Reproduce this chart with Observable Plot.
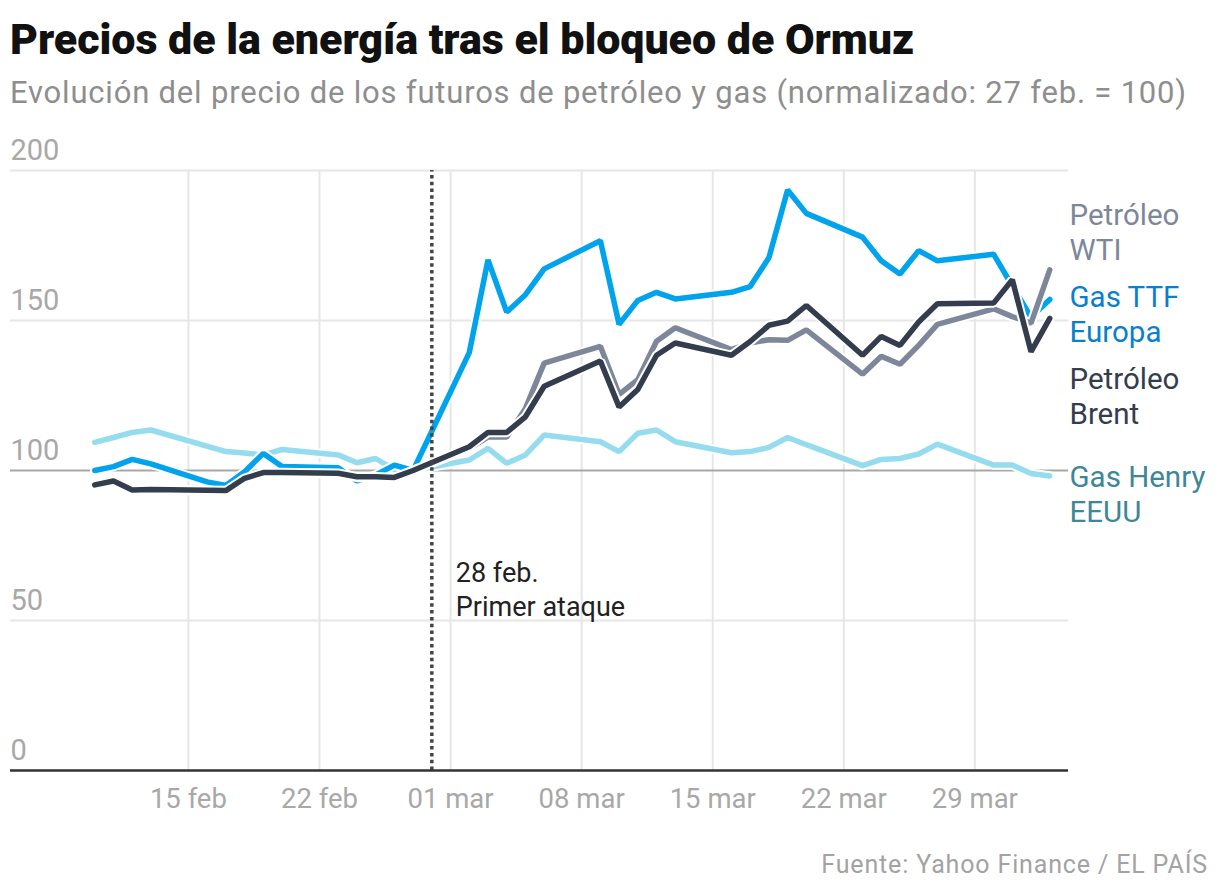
<!DOCTYPE html>
<html>
<head>
<meta charset="utf-8">
<script src="https://cdn.jsdelivr.net/npm/d3@7"></script>
<script src="https://cdn.jsdelivr.net/npm/@observablehq/plot@0.6"></script>
<style>
  html, body { margin: 0; padding: 0; background: #fff; width: 1220px; height: 896px; overflow: hidden; }
  #title { position: absolute; left: 10px; top: 14px; font-family: "Roboto"; font-weight: 900; font-size: 43px; line-height: 50px; color: #111; letter-spacing: -0.05px; white-space: nowrap; }
  #subtitle { position: absolute; left: 10px; top: 73px; font-family: "Roboto"; font-weight: 400; font-size: 31px; line-height: 40px; color: #8e8e8e; letter-spacing: 0.8px; white-space: nowrap; }
  #chart { position: absolute; left: 0; top: 130px; }
  #source { position: absolute; right: 12px; top: 850px; font-family: "Roboto"; font-size: 25px; line-height: 30px; color: #a3a3a3; letter-spacing: 0.85px; white-space: nowrap; }
</style>
</head>
<body>
<div id="title">Precios de la energía tras el bloqueo de Ormuz</div>
<div id="subtitle">Evolución del precio de los futuros de petróleo y gas (normalizado: 27 feb. = 100)</div>
<div id="chart"></div>
<div id="source">Fuente: Yahoo Finance / EL PAÍS</div>
<script>
// ---- Data ----
const dates = [
  "2026-02-10","2026-02-11","2026-02-12","2026-02-13","2026-02-16","2026-02-17","2026-02-18","2026-02-19","2026-02-20",
  "2026-02-23","2026-02-24","2026-02-25","2026-02-26","2026-02-27",
  "2026-03-02","2026-03-03","2026-03-04","2026-03-05","2026-03-06",
  "2026-03-09","2026-03-10","2026-03-11","2026-03-12","2026-03-13",
  "2026-03-16","2026-03-17","2026-03-18","2026-03-19","2026-03-20",
  "2026-03-23","2026-03-24","2026-03-25","2026-03-26","2026-03-27",
  "2026-03-30","2026-03-31","2026-04-01","2026-04-02"
];
const henry = [109.4, 111.0, 112.7, 113.5, null, 106.3, 105.8, 105.2, 107.0,
  105.2, 102.6, 104.0, 100.3, 100,
  103.5, 107.4, 102.4, 105.2, 111.8,
  109.6, 106.3, 112.4, 113.5, 109.6,
  105.9, 106.3, 107.7, 111.0, 108.6,
  101.6, 103.7, 104.0, 105.5, 108.8,
  101.8, 101.8, 99.0, 98.2];
const ttf = [100.0, 101.3, 103.7, 102.2, 96.2, 95.0, 99.6, 105.7, 101.3,
  100.9, 96.5, 98.5, 101.8, 100,
  139.3, 170.2, 152.8, 158.6, 167.2,
  176.6, 148.7, 156.7, 159.4, 157.2,
  159.4, 161.3, 170.9, 193.5, 185.7,
  177.8, 169.9, 165.5, 173.3, 169.9,
  172.1, 161.5, 151.1, 157.0];
const wti = [95.0, 96.3, 93.3, 93.5, null, 93.1, 97.2, 99.1, 99.1,
  98.9, 97.7, 97.7, 97.5, 100,
  107.3, 111.2, 111.2, 120.7, 135.8,
  141.4, 125.4, 130.3, 143.1, 147.6,
  140.3, 142.5, 143.6, 143.4, 146.9,
  132.1, 138.1, 135.4, 141.7, 148.7,
  153.9, 151.3, 149.1, 166.9];
const brent = [95.2, 96.5, 93.5, 93.7, 93.4, 93.3, 97.4, 99.3, 99.3,
  99.1, 97.9, 97.9, 97.7, 100,
  107.9, 112.7, 112.7, 117.9, 128.1,
  136.5, 121.2, 127.0, 138.4, 142.5,
  138.4, 143.0, 148.4, 149.8, 155.0,
  138.4, 144.7, 141.7, 149.5, 155.6,
  155.8, 163.6, 139.6, 150.7];

const seriesNames  = ["Gas Henry\nEEUU", "Gas TTF\nEuropa", "Petróleo\nWTI", "Petróleo\nBrent"];
const seriesValues = [henry, ttf, wti, brent];
const lineColors   = ["#96dcef", "#00a3ec", "#7e879a", "#333d4e"];
const labelColors  = ["#3d8797", "#0a80cc", "#7e879a", "#333d4e"];

const yTicks = [0, 50, 100, 150, 200];
const xTicks = ["2026-02-15","2026-02-22","2026-03-01","2026-03-08","2026-03-15","2026-03-22","2026-03-29"];
const monthNames = ["ene","feb","mar","abr","may","jun","jul","ago","sep","oct","nov","dic"];
const eventDate = "2026-02-28";
const eventLabel = "28 feb.\nPrimer ataque";
const eventLabelY = 66;

// ---- Build tables ----
const parse = d3.utcParse("%Y-%m-%d");
const series = seriesNames.map((name, i) => ({
  name,
  lineColor: lineColors[i],
  labelColor: labelColors[i],
  rows: dates.map((d, j) => ({date: parse(d), value: seriesValues[i][j]})).filter(r => r.value != null)
}));

// dodge end labels (data units)
const gap = 27.3;
const ends = series.map((s, i) => ({i, v: s.rows[s.rows.length - 1].value, p: s.rows[s.rows.length - 1].value}));
const sorted = ends.slice().sort((a, b) => b.v - a.v);
for (let k = 0; k < 200; k++) {
  for (let j = 0; j < sorted.length - 1; j++) {
    const a = sorted[j], b = sorted[j + 1];
    const d = a.p - b.p;
    if (d < gap) { const m = (gap - d) / 2; a.p += m; b.p -= m; }
  }
}
const labelRows = ends.map(e => ({text: series[e.i].name, y: e.p, color: series[e.i].labelColor}));

const fmt = d => `${String(d.getUTCDate()).padStart(2, "0")} ${monthNames[d.getUTCMonth()]}`;

const lineMarks = [];
for (const s of series) {
  lineMarks.push(Plot.line(s.rows, {x: "date", y: "value", stroke: "white", strokeWidth: 9.5, strokeLinejoin: "miter", strokeLinecap: "round"}));
  lineMarks.push(Plot.line(s.rows, {x: "date", y: "value", stroke: s.lineColor, strokeWidth: 5.5, strokeLinejoin: "miter", strokeLinecap: "round"}));
}

const chart = Plot.plot({
  width: 1220,
  height: 700,
  marginTop: 40,
  marginBottom: 60,
  marginLeft: 10,
  marginRight: 152,
  style: {fontFamily: "Roboto", background: "white", overflow: "visible"},
  x: {type: "utc", domain: [new Date(Date.UTC(2026, 1, 5, 12)), new Date(Date.UTC(2026, 3, 3))], axis: null},
  y: {domain: [0, 200], axis: null},
  marks: [
    Plot.ruleY(yTicks.filter(t => t !== 0 && t !== 100), {stroke: "#e6e6e6", strokeWidth: 2}),
    Plot.ruleX(xTicks.map(parse), {y1: 0, y2: 200, stroke: "#e6e6e6", strokeWidth: 2}),
    Plot.ruleY([100], {stroke: "#a8a8a8", strokeWidth: 2}),
    ...lineMarks,
    Plot.ruleX([parse(eventDate)], {y1: 0, y2: 200, stroke: "#444", strokeWidth: 3.5, strokeDasharray: "3.5,3.3"}),
    Plot.ruleY([0], {stroke: "#333", strokeWidth: 2.5}),
    Plot.text(yTicks, {y: d => d, frameAnchor: "left", textAnchor: "start", dy: -20, text: d => String(d), fontSize: 29, fill: "#a8a8a8"}),
    Plot.text(xTicks.map(parse), {x: d => d, frameAnchor: "bottom", dy: 37, text: fmt, fontSize: 27.5, fill: "#a8a8a8"}),
    Plot.text([parse(eventDate)], {x: d => d, y: eventLabelY, text: () => eventLabel, textAnchor: "start", lineAnchor: "top", dx: 24, dy: -15, fontSize: 27, lineHeight: 1.27, fill: "#222"}),
    Plot.text(labelRows, {y: "y", frameAnchor: "right", text: "text", fill: "color", textAnchor: "start", lineAnchor: "top", dx: 1, dy: -14, fontSize: 29.5, lineHeight: 1.19})
  ]
});
document.getElementById("chart").appendChild(chart);
</script>
</body>
</html>
